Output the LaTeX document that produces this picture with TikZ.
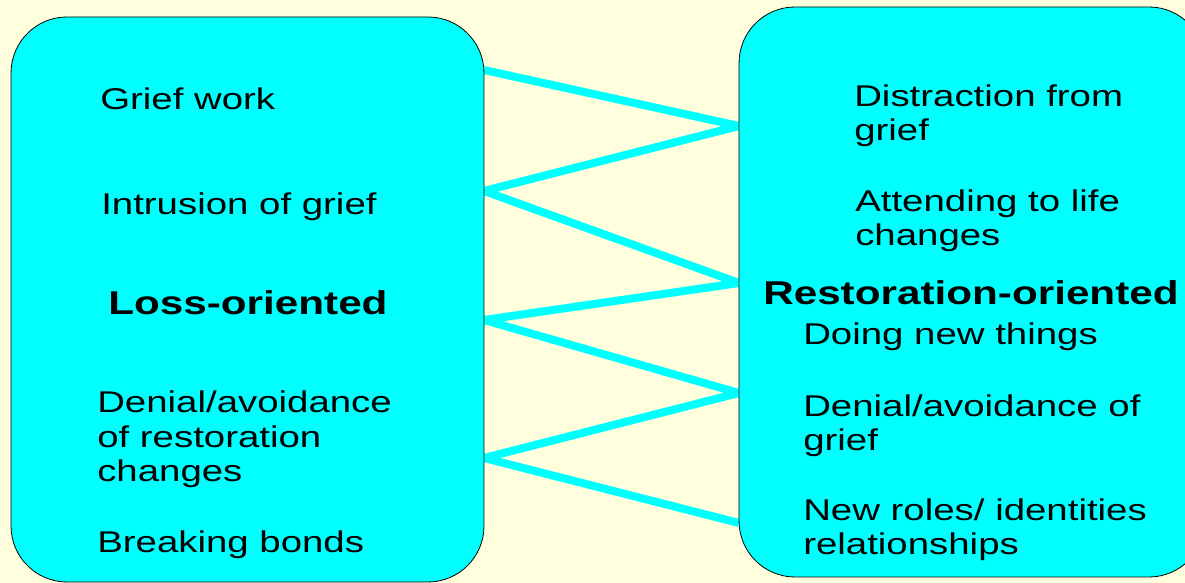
\documentclass[tikz,border=0pt]{standalone}
\usepackage{xcolor}
\usepackage{tikz}
\usepackage{fontspec}
\setmainfont{Liberation Sans}

\definecolor{cream}{HTML}{FFFFDD}
\definecolor{boxcyan}{HTML}{00FFFF}

\tikzset{
  panel/.style={draw=black, line width=0.8pt, fill=boxcyan, rectangle, rounded corners=56pt,
    inner sep=0pt, outer sep=0pt, xscale=1.28, transform shape},
  item/.style={anchor=base west, align=left, inner sep=0pt, xscale=1.28, transform shape,
    font=\fontsize{30}{34.5}\selectfont},
  heading/.style={item, font=\fontsize{33}{38}\selectfont\bfseries},
  link/.style={draw=boxcyan, line width=8pt}
}

\begin{document}
\begin{tikzpicture}[x=1pt, y=1pt]
            \fill[cream] (0,0) rectangle (1185,583);
            \useasboundingbox (0,0) rectangle (1185,583);

            % Zigzag ends
            \coordinate (l1) at (484,513);
            \coordinate (r1) at (739,457);
            \coordinate (l2) at (484,392);
            \coordinate (r2) at (739,300);
            \coordinate (l3) at (484,263);
            \coordinate (r3) at (739,190);
            \coordinate (l4) at (484,125);
            \coordinate (r4) at (739,60);

            % Zigzag
            \draw[link] (l1) -- (r1) -- (l2) -- (r2) -- (l3) -- (r3) -- (l4) -- (r4);

            % Loss-oriented box
            \node[panel, minimum width=369.5pt, minimum height=565pt] (loss) at (247.5,283.5) {};

            % Restoration-oriented box
            \node[panel, minimum width=364pt, minimum height=570pt] (restore) at (972,291) {};

            % Loss-oriented items
            \node[item] (griefwork) at (100,473) {Grief work};
            \node[item] (intrusion) at (101,368) {Intrusion of grief};
            \node[heading] (losstitle) at (108,268) {Loss-oriented};
            \node[item] (denialrest) at (97,101) {Denial/avoidance\\of restoration\\changes};
            \node[item] (bonds) at (97,30) {Breaking bonds};

            % Restoration-oriented items
            \node[item] (distraction) at (854,442) {Distraction from\\grief};
            \node[item] (attending) at (855,337) {Attending to life\\changes};
            \node[heading] (restoretitle) at (763,278) {Restoration-oriented};
            \node[item] (newthings) at (803,238) {Doing new things};
            \node[item] (denialgrief) at (803,132) {Denial/avoidance of\\grief};
            \node[item] (roles) at (803,28) {New roles/ identities\\relationships};
        \end{tikzpicture}
\end{document}
